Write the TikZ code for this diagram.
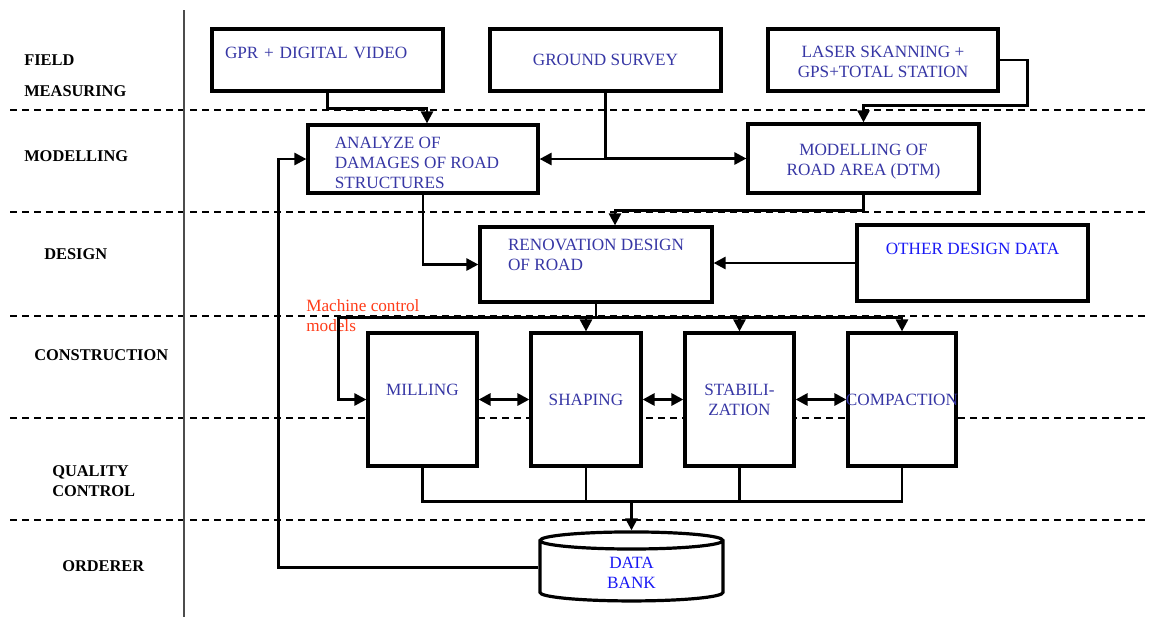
\documentclass[tikz,border=0pt]{standalone}
\usepackage{fontspec}
\setmainfont{Liberation Serif}
\usetikzlibrary{shapes.geometric, arrows.meta, calc}

\newlength{\ux}
\setlength{\ux}{0.75pt}

\definecolor{txtblue}{RGB}{55,55,165}
\definecolor{datablue}{RGB}{25,25,245}
\definecolor{mcred}{RGB}{255,60,25}

\begin{document}
\begin{tikzpicture}[
  x=0.75pt, y=-0.75pt,
  box/.style={rectangle, draw, line width=2.4pt, fill=white, inner sep=0pt, align=center, text=txtblue, font=\fontsize{12.9}{15}\selectfont},
  stage/.style={anchor=west, inner sep=0pt, align=left, font=\bfseries\fontsize{12.3}{15}\selectfont},
  lane/.style={line width=1.3pt, dash pattern=on 5.5pt off 3.5pt},
  link/.style={line width=2pt},
  arrow/.style={line width=2pt, -{Triangle[length=9pt, width=9pt]}},
  dblarrow/.style={line width=2.2pt, {Triangle[length=9pt, width=9pt]}-{Triangle[length=9pt, width=9pt]}}
]
\useasboundingbox (0,0) rectangle (1149,619);

% Lanes
\foreach \ly in {110,212,316,418,520}
  \draw[lane] (10,\ly) -- (1145,\ly);
\draw[line width=0.9pt, black!70] (184,10) -- (184,617);

% Stage names
\node[stage] (lfield) at (24,76) {FIELD\\[8pt]MEASURING};
\node[stage] (lmodel) at (24,156) {MODELLING};
\node[stage] (ldesign) at (44,254) {DESIGN};
\node[stage] (lconstr) at (34,355) {CONSTRUCTION};
\node[stage] (lquality) at (52,481) {QUALITY\\CONTROL};
\node[stage] (lorder) at (62,566) {ORDERER};

% Field measuring
\node[box, minimum width=231\ux, minimum height=62\ux, text width=205\ux, align=left, text depth=14\ux] (gpr) at (327.5,60) {GPR + DIGITAL VIDEO};
\node[box, minimum width=231\ux, minimum height=62\ux] (ground) at (605.5,60) {GROUND SURVEY};
\node[box, minimum width=230\ux, minimum height=62\ux, text height=35\ux] (laser) at (883,60) {LASER SKANNING +\\GPS+TOTAL STATION};

% Modelling
\node[box, minimum width=230\ux, minimum height=68\ux, align=left, text height=59\ux] (analyze) at (423,159) {ANALYZE OF\\DAMAGES OF ROAD\rule{12\ux}{0pt}\\STRUCTURES};
\node[box, minimum width=231\ux, minimum height=69\ux, text height=37\ux] (dtm) at (863.5,158.5) {MODELLING OF\\ROAD AREA (DTM)};

% Design
\node[box, minimum width=232\ux, minimum height=75\ux, align=left, text depth=20\ux] (renov) at (596,264.5) {RENOVATION DESIGN\\OF ROAD};
\node[box, minimum width=231\ux, minimum height=76\ux, text=datablue, text depth=28\ux] (other) at (972.5,263) {OTHER DESIGN DATA};

% Construction
\node[box, minimum width=109\ux, minimum height=133\ux, text depth=20\ux] (milling) at (422.5,399.5) {MILLING};
\node[box, minimum width=110\ux, minimum height=133\ux] (shaping) at (586,399.5) {SHAPING};
\node[box, minimum width=109\ux, minimum height=133\ux] (stabil) at (739.5,399.5) {STABILI-\\ZATION};
\node[box, minimum width=108\ux, minimum height=133\ux] (compact) at (902,399.5) {\makebox[0pt]{COMPACTION}};

\node[anchor=north west, inner sep=0pt, align=left, text=mcred, font=\fontsize{12.9}{15}\selectfont] (mcm) at (306,299) {Machine control\\models};

% Orderer
\node[cylinder, shape border rotate=90, aspect=0.35, draw, line width=2.4pt, fill=white, minimum width=183\ux, minimum height=69\ux, inner sep=0pt, align=center, text=datablue, text height=35\ux, font=\fontsize{12.9}{15}\selectfont] (databank) at (631.5,571.5) {DATA\\BANK};

% Arrows
\draw[arrow] (gpr.south) -- ++(0,16) -| ($(analyze.north)+(4,0)$);
\draw[arrow] (ground.south) |- (analyze.east);
\draw[arrow] (ground.south |- dtm.west) -- (dtm.west);
\draw[arrow] (laser.east) -- ++(28,0) |- ($(dtm.north)+(0,-17)$) -- (dtm.north);
\draw[arrow] (dtm.south) -- ++(0,16) -| ($(renov.north)+(19,0)$);
\draw[arrow] (analyze.south) |- (renov.west);
\draw[arrow] (other.west) -- (other.west -| renov.east);

\coordinate (bus) at ($(renov.south)+(0,14)$);
\draw[link] (renov.south) -- (bus);
\draw[arrow] (bus) -| (shaping.north);
\draw[arrow] (bus) -| (stabil.north);
\draw[arrow] (bus) -| (compact.north);
\draw[arrow] (bus) -| ($(milling.west)+(-28,0)$) -- (milling.west);

\draw[dblarrow] (milling) -- (shaping);
\draw[dblarrow] (shaping) -- (stabil);
\draw[dblarrow] (stabil) -- (compact);

\coordinate (qc) at ($(milling.south)+(0,34)$);
\draw[link] (milling.south) -- (qc) -| (compact.south);
\draw[link] (shaping.south) -- (shaping.south |- qc);
\draw[link] (stabil.south) -- (stabil.south |- qc);
\draw[arrow] (databank.north |- qc) -- (databank.north);

\draw[arrow] ($(databank.west)+(0,-4)$) -| ($(analyze.west)+(-28,0)$) -- (analyze.west);

\end{tikzpicture}
\end{document}
